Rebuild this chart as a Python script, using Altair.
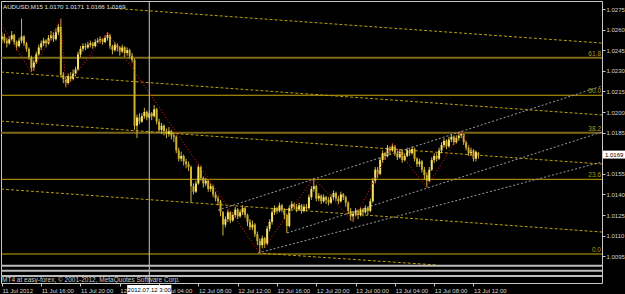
import json
import altair as alt
import pandas as pd

# ---------------- data (AUDUSD M15, prices in pips above 1.0000: 255 -> 1.0255) ----
opens = [253,255,252,250,253,256,251,248,252,255,
         250,246,240,232,236,242,247,250,252,250,
         254,256,253,258,262,227,224,221,226,224,
         228,231,242,246,248,247,249,250,248,251,
         252,253,251,254,256,248,245,249,247,244,
         247,243,245,241,238,190,196,193,197,200,
         196,199,197,202,193,187,190,186,184,186,
         183,182,172,166,168,164,162,160,146,142,
         148,160,152,148,150,144,146,140,137,135,
         127,118,122,127,121,125,129,124,127,130,
         125,120,116,118,111,106,103,108,104,115,
         120,127,130,128,132,129,125,117,130,133,
         131,129,132,128,131,130,138,144,146,137,
         139,135,138,136,134,138,141,137,135,140,
         138,134,128,124,126,128,125,129,127,130,
         128,135,150,158,155,165,170,168,174,172,
         175,170,167,171,165,168,172,170,173,166,
         162,164,158,154,150,158,165,168,166,172,
         176,179,175,180,182,178,181,183,184,178,
         174,170,172,166,170]
closes = [255,252,250,253,256,251,248,252,255,250,
          246,240,232,236,242,247,250,252,250,254,
          256,253,258,262,227,224,221,226,224,228,
          231,242,246,248,247,249,250,248,251,252,
          253,251,254,256,248,245,249,247,244,247,
          243,245,241,238,190,196,193,197,200,196,
          199,197,202,193,187,190,186,184,186,183,
          182,172,166,168,164,162,160,146,142,148,
          160,152,148,150,144,146,140,137,135,127,
          118,122,127,121,125,129,124,127,130,125,
          120,116,118,111,106,103,108,104,115,120,
          127,130,128,132,129,125,117,130,133,131,
          129,132,128,131,130,138,144,146,137,139,
          135,138,136,134,138,141,137,135,140,138,
          134,128,124,126,128,125,129,127,130,128,
          135,150,158,155,165,170,168,174,172,175,
          170,167,171,165,168,172,170,173,166,162,
          164,158,154,150,158,165,168,166,172,176,
          179,175,180,182,178,181,183,184,178,174,
          170,172,166,171,169]
highs = [258,257,254,255,259,257,252,254,268,256,
         251,247,241,238,244,249,252,254,253,256,
         259,258,261,264,268,229,226,228,229,231,
         233,244,248,250,250,251,252,251,253,254,
         255,254,256,258,257,249,251,250,248,249,
         248,247,246,243,239,198,199,199,203,201,
         201,200,205,203,195,192,191,188,189,187,
         185,183,174,171,169,166,164,161,148,150,
         162,161,153,152,151,148,147,142,139,136,
         128,124,129,128,127,131,130,129,132,131,
         126,122,121,119,113,108,110,109,117,122,
         129,132,131,134,133,130,126,132,135,134,
         133,134,133,133,133,140,146,152,147,141,
         140,140,139,138,140,143,142,139,142,141,
         139,135,130,128,130,129,131,130,132,131,
         137,152,160,160,167,172,171,176,175,177,
         176,172,173,172,170,174,173,175,174,167,
         166,165,160,156,160,167,170,170,174,178,
         181,180,182,184,183,183,185,186,184,179,
         176,174,173,172,171]
lows = [250,250,247,249,252,249,245,247,250,248,
        244,238,229,230,235,241,245,248,247,249,
        252,251,252,256,225,221,218,220,222,223,
        226,230,240,244,245,246,247,246,247,250,
        250,249,250,252,246,242,244,244,241,243,
        240,241,239,236,187,181,191,192,195,194,
        195,194,196,191,185,184,183,181,182,180,
        178,170,164,164,161,159,157,134,140,141,
        147,150,145,146,142,142,138,135,132,124,
        110,116,120,119,120,123,122,123,125,123,
        117,114,114,109,103,97,101,101,103,113,
        118,125,126,127,127,122,112,116,128,129,
        127,128,126,127,128,129,136,142,135,135,
        133,134,133,132,133,136,135,133,134,136,
        131,126,121,120,124,122,124,124,126,125,
        127,134,148,152,154,163,165,167,169,171,
        168,165,166,163,164,167,168,169,164,160,
        160,156,151,145,149,157,163,164,165,170,
        174,173,174,178,176,177,179,181,176,172,
        168,168,164,164,166]
assert len(opens) == len(closes) == len(highs) == len(lows) == 195

BAR_HOURS = 0.25  # M15 bars, hours counted from 11 Jul 2012 12:00

tick_hours = [0, 4, 8, 12, 16, 20, 24, 28, 32, 36, 40, 44, 48]
tick_labels = ["11 Jul 2012", "11 Jul 16:00", "11 Jul 20:00", "12 Jul 00:00",
               "12 Jul 04:00", "12 Jul 08:00", "12 Jul 12:00", "12 Jul 16:00",
               "12 Jul 20:00", "13 Jul 00:00", "13 Jul 04:00", "13 Jul 08:00",
               "13 Jul 12:00"]
price_ticks = [1.0095, 1.0110, 1.0125, 1.0140, 1.0155, 1.0170, 1.0185,
               1.0200, 1.0215, 1.0230, 1.0245, 1.0260, 1.0275]

fib_levels = [1.00966, 1.01510, 1.01849, 1.02122, 1.02395]
fib_labels = ["0.0", "23.6", "38.2", "50.0", "61.8"]
fib_strong = [False, False, True, False, True]

desc_h1 = [11.0, -0.09, -0.09, -0.09, 26.07]
desc_p1 = [1.02757, 1.02291, 1.01934, 1.01439, 1.00973]
desc_h2 = [61.08, 61.08, 61.08, 61.08, 44.28]
desc_p2 = [1.02502, 1.01978, 1.01621, 1.01126, 1.00886]

asc_h1 = [22.0, 29.02, 26.07]
asc_p1 = [1.01286, 1.01119, 1.00973]
asc_h2 = [61.08, 61.08, 61.08]
asc_p2 = [1.02189, 1.01854, 1.01636]

zz_h = [0, 3, 6, 6.5, 10.75, 26.25, 31.75, 35.75, 39.75, 43.25, 46.75, 48.25]
zz_p = [263, 229, 268, 218, 258, 97, 152, 120, 177, 145, 186, 164]

cross_h = 15.0
cross_text = "2012.07.12 3:00"
last_price = 1.0169
header = "AUDUSD,M15  1.0170 1.0171 1.0166 1.0169"
copyright_text = "MT4 at easy-forex, \u00a9 2001-2012, MetaQuotes Software Corp."

# ---------------- tables ----------------
def px(v):
    return 1 + v / 10000.0

candles = pd.DataFrame({
    "h": [i * BAR_HOURS for i in range(len(closes))],
    "o": [px(v) for v in opens],
    "c": [px(v) for v in closes],
    "hi": [px(v) for v in highs],
    "lo": [px(v) for v in lows],
})
candles["col"] = ["#f6e26a" if c >= o else "#cdb02c" for o, c in zip(candles.o, candles.c)]

fib = pd.DataFrame({"p": fib_levels, "lab": fib_labels,
                    "col": ["#7c6818" if s else "#c8a80c" for s in fib_strong],
                    "sw": [2 if s else 1 for s in fib_strong]})
desc = pd.DataFrame({"h1": desc_h1, "p1": desc_p1, "h2": desc_h2, "p2": desc_p2})
asc = pd.DataFrame({"h1": asc_h1, "p1": asc_p1, "h2": asc_h2, "p2": asc_p2})
zz = pd.DataFrame({"h": zz_h, "p": [px(v) for v in zz_p]})
cross = pd.DataFrame({"h": [cross_h], "ha": [cross_h - 2.25], "hb": [cross_h + 2.25],
                      "t": [cross_text]})
last = pd.DataFrame({"p": [last_price], "pa": [last_price - 0.00029],
                     "pb": [last_price + 0.00029], "t": [f"{last_price:.4f}"]})

X_DOM = [-0.0916, 61.08]
Y_DOM = [1.007549, 1.028083]
FONT = "Liberation Sans"
GREY = "#c8c8c8"
LABEL = "#d4d4d4"

x_axis = alt.Axis(values=tick_hours,
                  labelExpr=json.dumps(tick_labels) + "[round(datum.value/4)]",
                  labelAlign="left", labelBaseline="top", labelPadding=1,
                  tickSize=3, tickColor=GREY, labelColor=LABEL, labelFont=FONT,
                  labelFontSize=6, domain=False, grid=False, title=None,
                  labelOverlap=False, labelFlush=False, labelBound=False)
y_axis = alt.Axis(orient="right", values=price_ticks, format=".4f",
                  labelAlign="left", labelBaseline="middle", labelPadding=1,
                  tickSize=3, tickColor=GREY, labelColor=LABEL, labelFont=FONT,
                  labelFontSize=6, domain=False, grid=False, title=None,
                  labelOverlap=False, labelFlush=False, labelBound=False)


def X(f):
    return alt.X(f, type="quantitative", axis=x_axis,
                 scale=alt.Scale(domain=X_DOM, nice=False, zero=False))


def Y(f):
    return alt.Y(f, type="quantitative", axis=y_axis,
                 scale=alt.Scale(domain=Y_DOM, nice=False, zero=False))


fib_lines = alt.Chart(fib).mark_rule(clip=True).encode(
    y=Y("p"), color=alt.Color("col:N", scale=None),
    strokeWidth=alt.StrokeWidth("sw:Q", scale=None))
fib_text = alt.Chart(fib).mark_text(align="right", baseline="bottom", dy=-1,
                                    font=FONT, fontSize=6.5, color="#b09a1c").encode(
    x=alt.value(600), y=Y("p"), text="lab:N")

desc_lines = alt.Chart(desc).mark_rule(clip=True, color="#b89e10", strokeDash=[3, 2],
                                       strokeWidth=1).encode(
    x=X("h1"), x2="h2:Q", y=Y("p1"), y2="p2:Q")
asc_lines = alt.Chart(asc).mark_rule(clip=True, color="#9c9cac", strokeDash=[2, 2],
                                     strokeWidth=1).encode(
    x=X("h1"), x2="h2:Q", y=Y("p1"), y2="p2:Q")

wicks = alt.Chart(candles).mark_rule(clip=True, color="#d0b43e", strokeWidth=1).encode(
    x=X("h"), y=Y("lo"), y2="hi:Q")
bodies = alt.Chart(candles).mark_rule(clip=True, strokeWidth=2).encode(
    x=X("h"), y=Y("o"), y2="c:Q", color=alt.Color("col:N", scale=None))

zigzag = alt.Chart(zz).mark_line(clip=True, color="#b01414", strokeDash=[1, 2],
                                 strokeWidth=1.2).encode(x=X("h"), y=Y("p"), order="h:Q")

cross_line = alt.Chart(cross).mark_rule(color=GREY, strokeWidth=1).encode(x=X("h"))
cross_box = alt.Chart(cross).mark_rect(color="#ffffff").encode(
    x=X("ha"), x2="hb:Q", y=alt.value(284), y2=alt.value(293))
cross_lab = alt.Chart(cross).mark_text(font=FONT, fontSize=6, color="#000000",
                                       baseline="middle").encode(
    x=X("h"), y=alt.value(288.5), text="t:N")

last_box = alt.Chart(last).mark_rect(color="#ffffff").encode(
    x=alt.value(602), x2=alt.value(624), y=Y("pa"), y2="pb:Q")
last_lab = alt.Chart(last).mark_text(font=FONT, fontSize=6, color="#000000",
                                     align="left", baseline="middle").encode(
    x=alt.value(604), y=Y("p"), text="t:N")

seps = pd.DataFrame({"yy": [264.7, 269.7, 275.0]})
sep_lines = alt.Chart(seps).mark_rule(color="#bcbcbc", strokeWidth=2).encode(
    y=alt.Y("yy:Q", scale=None, axis=None))

head = alt.Chart(pd.DataFrame({"t": [header]})).mark_text(
    font=FONT, fontSize=6.2, color="#e0e0e0", align="left", baseline="middle").encode(
    x=alt.value(2), y=alt.value(5.5), text="t:N")
copy_ = alt.Chart(pd.DataFrame({"t": [copyright_text]})).mark_text(
    font=FONT, fontSize=6.5, color="#c8c8c8", align="left", baseline="middle").encode(
    x=alt.value(1), y=alt.value(278.5), text="t:N")

chart = alt.layer(
    fib_lines, desc_lines, asc_lines, wicks, bodies, zigzag, fib_text,
    cross_line, sep_lines, head, copy_, cross_box, cross_lab, last_box, last_lab
).properties(
    width=601, height=282,
    autosize=alt.AutoSizeParams(type="none"),
    padding={"left": 1, "top": 1, "right": 23, "bottom": 11},
).configure(background="#000000").configure_view(stroke=GREY, strokeWidth=1)

chart.save("out.html", embed_options={"renderer": "svg", "actions": False})
